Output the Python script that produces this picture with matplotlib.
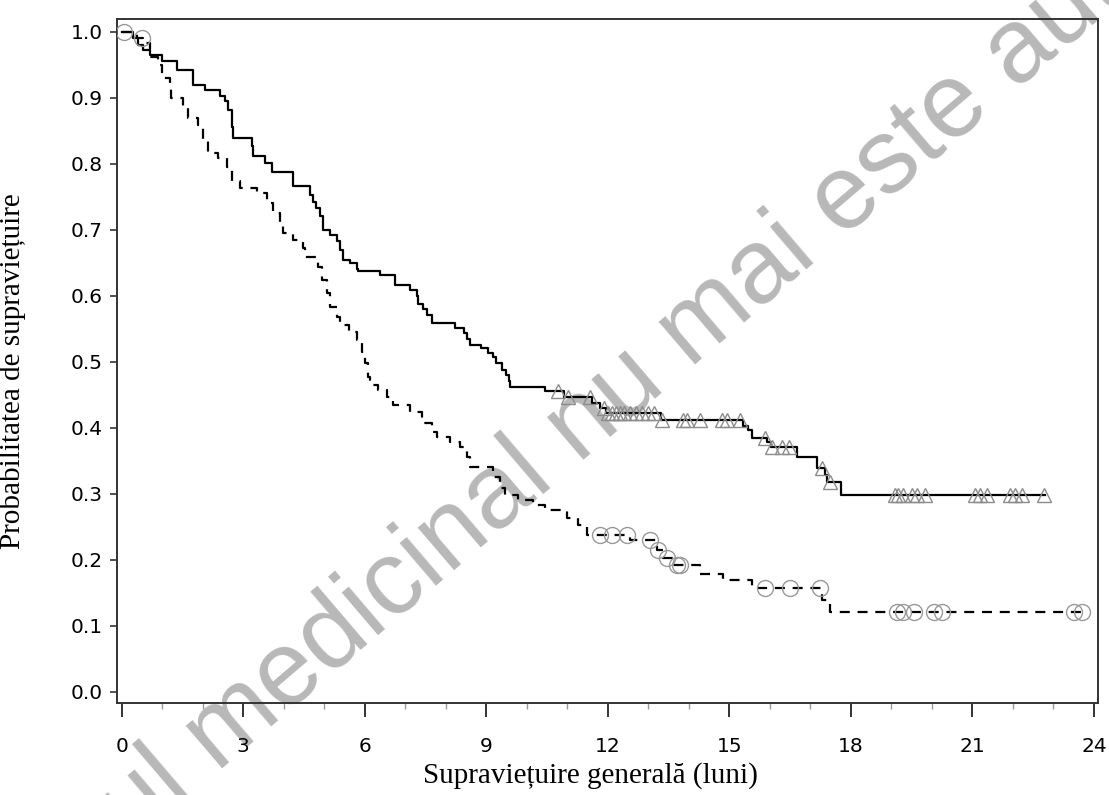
import numpy as np
import matplotlib
matplotlib.use("Agg")
import matplotlib.pyplot as plt
from matplotlib.ticker import MultipleLocator, FormatStrFormatter

# arm 1 (solid line, triangle = censored)
t_solid = [0, 0.29, 0.41, 0.53, 0.70, 0.99, 1.36, 1.77, 2.06, 2.43, 2.55, 2.63, 2.72, 2.76,
           3.21, 3.25, 3.54, 3.70, 4.24, 4.66, 4.72, 4.80, 4.90, 4.98, 5.14, 5.31, 5.39, 5.47,
           5.64, 5.80, 5.84, 6.38, 6.75, 7.12, 7.28, 7.32, 7.45, 7.53, 7.65, 8.23, 8.44, 8.52,
           8.60, 8.88, 9.05, 9.17, 9.25, 9.38, 9.50, 9.55, 9.59, 10.45, 10.92, 11.61, 11.82,
           11.95, 13.31, 15.34, 15.45, 15.55, 15.94, 16.02, 16.68, 17.16, 17.37, 17.41, 17.75, 22.8]
s_solid = [1.0, 0.990, 0.980, 0.972, 0.965, 0.956, 0.942, 0.919, 0.911, 0.903, 0.895, 0.881, 0.856, 0.838,
           0.826, 0.811, 0.801, 0.788, 0.766, 0.752, 0.742, 0.732, 0.720, 0.700, 0.692, 0.682, 0.669, 0.654,
           0.649, 0.641, 0.638, 0.631, 0.616, 0.609, 0.600, 0.588, 0.580, 0.570, 0.558, 0.551, 0.543, 0.535,
           0.525, 0.520, 0.513, 0.507, 0.498, 0.488, 0.480, 0.470, 0.462, 0.455, 0.446, 0.438, 0.430,
           0.422, 0.412, 0.402, 0.396, 0.385, 0.378, 0.371, 0.355, 0.339, 0.328, 0.318, 0.298, 0.298]
c_solid = [10.78, 11.03, 11.55, 11.90, 12.00, 12.10, 12.20, 12.30, 12.40, 12.55, 12.70, 12.85,
           13.00, 13.15, 13.35, 13.85, 13.95, 14.27, 14.82, 14.94, 15.27, 15.89, 16.06, 16.30,
           16.47, 17.28, 17.49, 19.09, 19.17, 19.30, 19.50, 19.63, 19.83, 21.07, 21.20, 21.36,
           21.93, 22.06, 22.22, 22.76]

# arm 2 (dashed line, circle = censored)
t_dash = [0, 0.37, 0.53, 0.70, 0.90, 0.99, 1.19, 1.23, 1.52, 1.64, 1.89, 2.01, 2.14, 2.39, 2.59,
          2.72, 2.92, 3.33, 3.58, 3.74, 3.91, 3.99, 4.24, 4.48, 4.53, 4.85, 4.94, 5.06, 5.14,
          5.31, 5.39, 5.60, 5.80, 5.93, 6.01, 6.09, 6.13, 6.34, 6.54, 6.71, 7.12, 7.41, 7.65,
          7.78, 8.11, 8.35, 8.52, 8.60, 9.17, 9.34, 9.46, 9.79, 10.16, 10.45, 10.99, 11.27,
          11.48, 12.55, 13.21, 13.37, 13.62, 14.28, 14.85, 15.56, 17.30, 17.49, 23.7]
s_dash = [1.0, 0.990, 0.982, 0.962, 0.950, 0.929, 0.914, 0.899, 0.886, 0.869, 0.859, 0.836, 0.816, 0.808, 0.795,
          0.773, 0.763, 0.756, 0.740, 0.725, 0.705, 0.695, 0.684, 0.672, 0.659, 0.644, 0.624, 0.604, 0.583,
          0.568, 0.556, 0.545, 0.533, 0.515, 0.498, 0.477, 0.465, 0.457, 0.447, 0.434, 0.424, 0.407, 0.394,
          0.386, 0.379, 0.371, 0.356, 0.341, 0.326, 0.308, 0.298, 0.290, 0.283, 0.275, 0.263, 0.253,
          0.237, 0.230, 0.215, 0.202, 0.192, 0.179, 0.169, 0.157, 0.139, 0.121, 0.121]
c_dash = [0.05, 0.50, 11.81, 12.10, 12.47, 13.04, 13.25, 13.46, 13.70, 13.79, 15.88, 16.50,
          17.24, 19.14, 19.30, 19.55, 20.05, 20.25, 23.50, 23.70]

xticks = list(range(0, 25, 3))
yticks = [i / 10 for i in range(11)]


def surv_at(times, surv, c):
    idx = np.searchsorted(times, c, side="right") - 1
    return np.array(surv)[idx]


fig = plt.figure(figsize=(11.09, 7.95), dpi=100)
ax = fig.add_axes([0.1052, 0.1153, 0.8852, 0.8608])

ax.step(t_solid, s_solid, where="post", color="black", lw=1.6, zorder=3)
ax.step(t_dash, s_dash, where="post", color="black", lw=1.6, ls=(0, (4.5, 3.5)), zorder=3)
ax.plot(c_solid, surv_at(t_solid, s_solid, c_solid), ls="none", marker="^", ms=10,
        mfc="none", mec="#8c8c8c", mew=1.0, zorder=4)
ax.plot(c_dash, surv_at(t_dash, s_dash, c_dash), ls="none", marker="o", ms=11.5,
        mfc="none", mec="#999999", mew=1.0, zorder=4)

ax.set_xlim(-0.123, 24.11)
ax.set_ylim(-0.0176, 1.019)
ax.set_xticks(xticks)
ax.xaxis.set_minor_locator(MultipleLocator(1))
ax.set_yticks(yticks)
ax.yaxis.set_major_formatter(FormatStrFormatter("%.1f"))

for s in ax.spines.values():
    s.set_linewidth(1.4)
    s.set_color("#333333")
ax.tick_params(axis="y", length=5, width=1.2, color="#333333", labelsize=14.5, pad=5)
ax.tick_params(axis="x", which="major", length=10, width=1.4, color="#333333", labelsize=14.5, pad=14)
ax.tick_params(axis="x", which="minor", length=4, width=1.0, color="#999999")

ax.set_xlabel("Supraviețuire generală (luni)", family="Liberation Serif", fontsize=21)
ax.set_ylabel("Probabilitatea de supraviețuire", family="Liberation Serif", fontsize=21)
ax.xaxis.set_label_coords(0.483, -0.086)
ax.yaxis.set_label_coords(-0.092, 0.486)

# watermark
ax.text(0.542, 0.440, "Produsul medicinal nu mai este autorizat", transform=fig.transFigure,
        rotation=40.5, rotation_mode="anchor", ha="center", va="baseline",
        family="Liberation Sans", fontsize=76, color="#b8b8b8", clip_on=False, zorder=1)

fig.savefig("out.png", dpi=100)
